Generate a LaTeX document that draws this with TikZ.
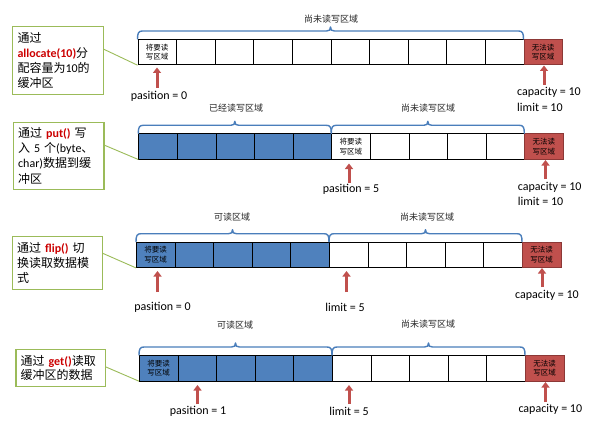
\documentclass[tikz,border=0pt]{standalone}
\usepackage{fontspec}
\setmainfont{Carlito}
\newfontfamily\cjk{Noto Sans CJK SC}
\usetikzlibrary{arrows.meta,calc}
\definecolor{cellblue}{HTML}{4F81BD}
\definecolor{cellred}{HTML}{C0504D}
\definecolor{cellredd}{HTML}{8C3836}
\definecolor{bracecol}{HTML}{4A7EBB}
\definecolor{boxgreen}{HTML}{9BBB59}
\definecolor{arrowred}{HTML}{C0504D}
\definecolor{fnred}{HTML}{CC0000}
\tikzset{
  cell/.style={draw=black, line width=0.7pt, minimum width=38.6pt, minimum height=25.5pt,
    inner sep=0pt, anchor=north west, align=center, font=\cjk\fontsize{7.5}{9.5}\selectfont},
  wcell/.style={cell, fill=white},
  bcell/.style={cell, fill=cellblue},
  rcell/.style={cell, fill=cellred, draw=cellredd},
  ctext/.style={inner sep=0pt, align=center, font=\cjk\fontsize{7.5}{9.5}\selectfont},
  bracestyle/.style={draw=bracecol, line width=1.4pt, line cap=round, line join=round},
  blabel/.style={inner sep=0pt, text=black!85, font=\cjk\fontsize{9}{10}\selectfont},
  redarrow/.style={draw=arrowred, line width=3pt, -{Triangle[width=8pt,length=5.5pt]}},
  lab/.style={inner sep=0pt, font=\fontsize{12}{14}\selectfont},
  tbox/.style={draw=boxgreen, line width=1.1pt, fill=white, inner xsep=4.5pt, inner ysep=2pt,
    align=left, font=\fontsize{12}{15.3}\selectfont},
  gline/.style={draw=boxgreen, line width=0.9pt}
}
\newcommand\bufrow[4]{%
  \foreach \i in {0,...,9}{%
    \ifnum\i<#4\relax
      \node[bcell] (#1c\i) at ({#2+\i*38.6},#3) {};
    \else
      \node[wcell] (#1c\i) at ({#2+\i*38.6},#3) {};
    \fi
  }%
  \node[rcell] (#1c10) at ({#2+386},#3) {无法读\\写区域};
}
\newcommand\bufbrace[3]{%
  \draw[bracestyle] (#1,#3) .. controls (#1,{#3-6}) and ({#1+1},{#3-8}) .. ({#1+5},{#3-8})
    -- ({(#1+#2)/2-4},{#3-8}) .. controls ({(#1+#2)/2-1},{#3-8}) and ({(#1+#2)/2},{#3-9}) .. ({(#1+#2)/2},{#3-12})
    .. controls ({(#1+#2)/2},{#3-9}) and ({(#1+#2)/2+1},{#3-8}) .. ({(#1+#2)/2+4},{#3-8})
    -- ({#2-5},{#3-8}) .. controls ({#2-1},{#3-8}) and (#2,{#3-6}) .. (#2,#3);
}
\newcommand\bufarrow[4]{%
  \coordinate (#1s) at (#2,#3);
  \coordinate (#1e) at (#2,#4);
  \draw[redarrow] (#1s) -- (#1e);
}
\begin{document}
\begin{tikzpicture}[x=1pt,y=-1pt]
\fill[white] (0,0) rectangle (605,425);
\useasboundingbox (0,0) rectangle (605,425);

% ---------- rows of cells ----------
\bufrow{r1}{137.5}{39}{0}
\bufrow{r2}{138.3}{133.3}{5}
\bufrow{r3}{136}{241.7}{5}
\bufrow{r4}{139}{355}{5}

\node[ctext] (t1) at (r1c0) {将要读\\写区域};
\node[ctext] (t2) at (r2c5) {将要读\\写区域};
\node[ctext] (t3) at (r3c0) {将要读\\写区域};
\node[ctext] (t4) at (r4c0) {将要读\\写区域};

% ---------- braces ----------
\bufbrace{137.5}{523.5}{39}
\bufbrace{138.3}{331.3}{133.3}
\bufbrace{331.3}{524.3}{133.3}
\bufbrace{136}{329}{241.7}
\bufbrace{329}{522}{241.7}
\bufbrace{139}{332}{355}
\bufbrace{332}{525}{355}

\node[blabel] (bl1) at (331,19) {尚未读写区域};
\node[blabel] (bl2a) at (236,108) {已经读写区域};
\node[blabel] (bl2b) at (428,108) {尚未读写区域};
\node[blabel] (bl3a) at (232,217) {可读区域};
\node[blabel] (bl3b) at (427,217) {尚未读写区域};
\node[blabel] (bl4a) at (235,325) {可读区域};
\node[blabel] (bl4b) at (428,324) {尚未读写区域};

% ---------- arrows ----------
\bufarrow{a1p}{157}{88}{67.5}
\bufarrow{a1c}{544}{85}{65.5}
\bufarrow{a2p}{349}{183}{163.5}
\bufarrow{a2c}{545.5}{179}{160}
\bufarrow{a3p}{157.5}{292}{271}
\bufarrow{a3l}{346.5}{292}{271}
\bufarrow{a3c}{542}{287}{268}
\bufarrow{a4p}{197.5}{404}{385}
\bufarrow{a4l}{349}{404}{385}
\bufarrow{a4c}{545.5}{402}{382}

% ---------- labels ----------
\node[lab] (p1) at (159,96) {pasition = 0};
\node[lab, anchor=west] (c1) at (517,92) {capacity = 10};
\node[lab, anchor=west] (l1) at (517,107) {limit = 10};
\node[lab] (p2) at (351,189) {pasition = 5};
\node[lab, anchor=west] (c2) at (517.7,187.3) {capacity = 10};
\node[lab, anchor=west] (l2) at (517.7,201.7) {limit = 10};
\node[lab] (p3) at (162.5,307.5) {pasition = 0};
\node[lab] (l3) at (345,307.5) {limit = 5};
\node[lab, anchor=west] (c3) at (515,295) {capacity = 10};
\node[lab] (p4) at (198,411) {pasition = 1};
\node[lab] (l4) at (349,411) {limit = 5};
\node[lab, anchor=west] (c4) at (518.3,409) {capacity = 10};

% ---------- note boxes ----------
\coordinate (g1) at (103.3,49);
\coordinate (g2) at (104,145);
\coordinate (g3) at (102.7,253.3);
\coordinate (g4) at (105.3,366.7);
\draw[gline] (g1) -- (r1c0.south west);
\draw[gline] (g2) -- (r2c0.south west);
\draw[gline] (g3) -- (r3c0.south west);
\draw[gline] (g4) -- (r4c0.south west);

\node[tbox, minimum width=90.6pt, minimum height=67.6pt, text width=81pt] (b1) at (58,60.5)
  {{\cjk 通过}\\\textcolor{fnred}{\bfseries allocate(10)}{\cjk 分}\\{\cjk 配容量为}10{\cjk 的}\\{\cjk 缓冲区}};
\node[tbox, minimum width=90.7pt, minimum height=67pt, text width=81pt] (b2) at (58.65,155.8)
  {{\cjk 通过} \textcolor{fnred}{\bfseries put()} {\cjk 写}\\{\cjk 入} 5 {\cjk 个}(byte{\cjk 、}\\char){\cjk 数据到缓}\\{\cjk 冲区}};
\node[tbox, minimum width=90pt, minimum height=52.6pt, text width=81pt] (b3) at (57.7,263)
  {{\cjk 通过} \textcolor{fnred}{\bfseries flip()} {\cjk 切}\\{\cjk 换读取数据模}\\{\cjk 式}};
\node[tbox, minimum width=89.3pt, minimum height=37.4pt, text width=80pt, font=\fontsize{12}{14.5}\selectfont] (b4) at (60.65,368)
  {{\cjk 通过} \textcolor{fnred}{\bfseries get()}{\cjk 读取}\\{\cjk 缓冲区的数据}};
\end{tikzpicture}
\end{document}
